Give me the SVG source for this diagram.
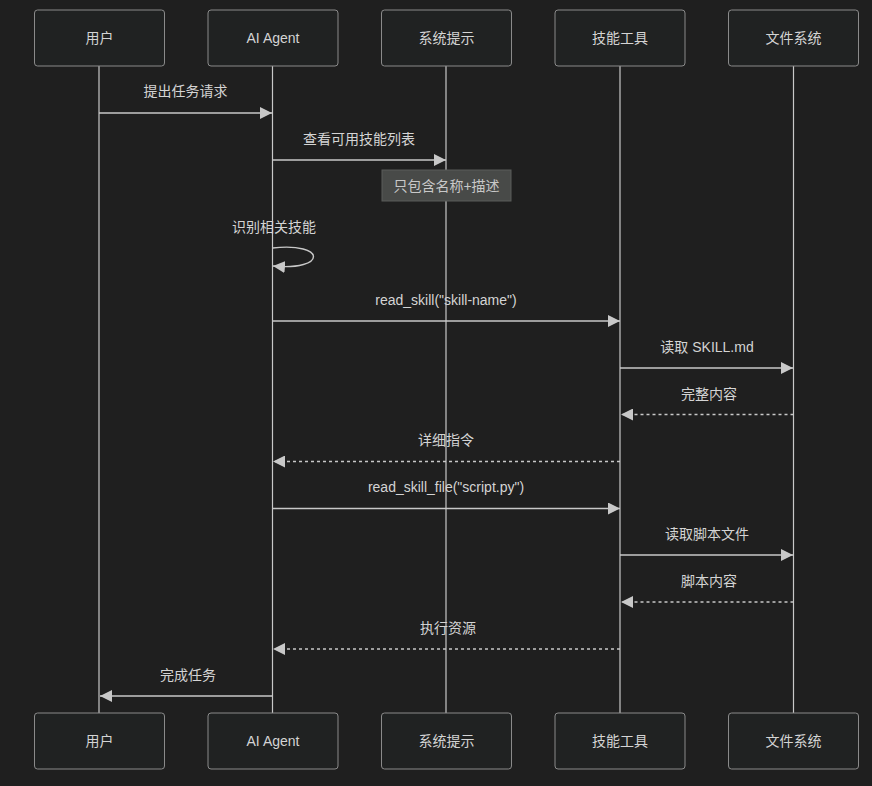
<svg xmlns="http://www.w3.org/2000/svg" width="872" height="786" viewBox="0 0 872 786">
<defs>
<style>
.bg{fill:#1f1f1f}
.actor rect{fill:#202222;stroke:#8a8a8a;stroke-width:1}
.actor text,.lbl{fill:#d4d4d4;font-family:"Liberation Sans","Noto Sans CJK SC",sans-serif;font-size:14px;text-anchor:middle;dominant-baseline:central}
.life{stroke:#c8c8c8;stroke-width:1.2}
.msg{stroke:#c8c8c8;stroke-width:1.4;fill:none}
.dash{stroke-dasharray:3,3}
.note rect{fill:#484a48;stroke:#5a5c5a}
.note text{fill:#c8c8c8;font-family:"Liberation Sans","Noto Sans CJK SC",sans-serif;font-size:14px;text-anchor:middle;dominant-baseline:central}
</style>
<marker id="ah" viewBox="0 0 10 10" refX="10" refY="5" markerWidth="12" markerHeight="12" markerUnits="userSpaceOnUse" orient="auto">
<path d="M0,0 L10,5 L0,10 z" fill="#c8c8c8"/>
</marker>
</defs>
<rect class="bg" x="0" y="0" width="872" height="786"/>
<g id="lifelines">
<line class="life" x1="99" y1="66" x2="99" y2="713"/>
<line class="life" x1="272.5" y1="66" x2="272.5" y2="713"/>
<line class="life" x1="446" y1="66" x2="446" y2="713"/>
<line class="life" x1="620" y1="66" x2="620" y2="713"/>
<line class="life" x1="793.5" y1="66" x2="793.5" y2="713"/>
</g>
<g id="actor-user-top" class="actor"><rect x="34.5" y="10" width="130" height="56" rx="3"/><text x="99.5" y="38">用户</text></g>
<g id="actor-agent-top" class="actor"><rect x="208" y="10" width="130" height="56" rx="3"/><text x="273" y="38">AI Agent</text></g>
<g id="actor-prompt-top" class="actor"><rect x="381.5" y="10" width="130" height="56" rx="3"/><text x="446.5" y="38">系统提示</text></g>
<g id="actor-tool-top" class="actor"><rect x="555" y="10" width="130" height="56" rx="3"/><text x="620" y="38">技能工具</text></g>
<g id="actor-fs-top" class="actor"><rect x="728.5" y="10" width="130" height="56" rx="3"/><text x="793.5" y="38">文件系统</text></g>
<g id="actor-user-bottom" class="actor"><rect x="34.5" y="713" width="130" height="56" rx="3"/><text x="99.5" y="741">用户</text></g>
<g id="actor-agent-bottom" class="actor"><rect x="208" y="713" width="130" height="56" rx="3"/><text x="273" y="741">AI Agent</text></g>
<g id="actor-prompt-bottom" class="actor"><rect x="381.5" y="713" width="130" height="56" rx="3"/><text x="446.5" y="741">系统提示</text></g>
<g id="actor-tool-bottom" class="actor"><rect x="555" y="713" width="130" height="56" rx="3"/><text x="620" y="741">技能工具</text></g>
<g id="actor-fs-bottom" class="actor"><rect x="728.5" y="713" width="130" height="56" rx="3"/><text x="793.5" y="741">文件系统</text></g>
<g id="note" class="note"><rect x="382" y="170" width="129" height="31"/><text x="446.5" y="186">只包含名称+描述</text></g>
<g id="connectors">
<line class="msg" x1="99" y1="113" x2="272" y2="113" marker-end="url(#ah)"/>
<line class="msg" x1="272.5" y1="160" x2="446" y2="160" marker-end="url(#ah)"/>
<path class="msg" d="M272.5,248 C327,242 327,271 273,266" marker-end="url(#ah)"/>
<line class="msg" x1="272.5" y1="321" x2="620" y2="321" marker-end="url(#ah)"/>
<line class="msg" x1="620" y1="368" x2="793" y2="368" marker-end="url(#ah)"/>
<line class="msg dash" x1="793.5" y1="414.5" x2="621" y2="414.5" marker-end="url(#ah)"/>
<line class="msg dash" x1="620" y1="461.5" x2="273" y2="461.5" marker-end="url(#ah)"/>
<line class="msg" x1="272.5" y1="508.5" x2="620" y2="508.5" marker-end="url(#ah)"/>
<line class="msg" x1="620" y1="555" x2="793" y2="555" marker-end="url(#ah)"/>
<line class="msg dash" x1="793.5" y1="602" x2="621" y2="602" marker-end="url(#ah)"/>
<line class="msg dash" x1="620" y1="649" x2="273" y2="649" marker-end="url(#ah)"/>
<line class="msg" x1="272.5" y1="696" x2="100" y2="696" marker-end="url(#ah)"/>
</g>
<g id="labels">
<text class="lbl" x="185.5" y="91">提出任务请求</text>
<text class="lbl" x="359" y="139">查看可用技能列表</text>
<text class="lbl" x="274" y="227">识别相关技能</text>
<text class="lbl" x="446" y="300">read_skill("skill-name")</text>
<text class="lbl" x="707" y="347">读取 SKILL.md</text>
<text class="lbl" x="709" y="394">完整内容</text>
<text class="lbl" x="446" y="440">详细指令</text>
<text class="lbl" x="446" y="487">read_skill_file("script.py")</text>
<text class="lbl" x="707" y="534">读取脚本文件</text>
<text class="lbl" x="709" y="581">脚本内容</text>
<text class="lbl" x="448" y="628">执行资源</text>
<text class="lbl" x="188" y="675">完成任务</text>
</g>
</svg>
